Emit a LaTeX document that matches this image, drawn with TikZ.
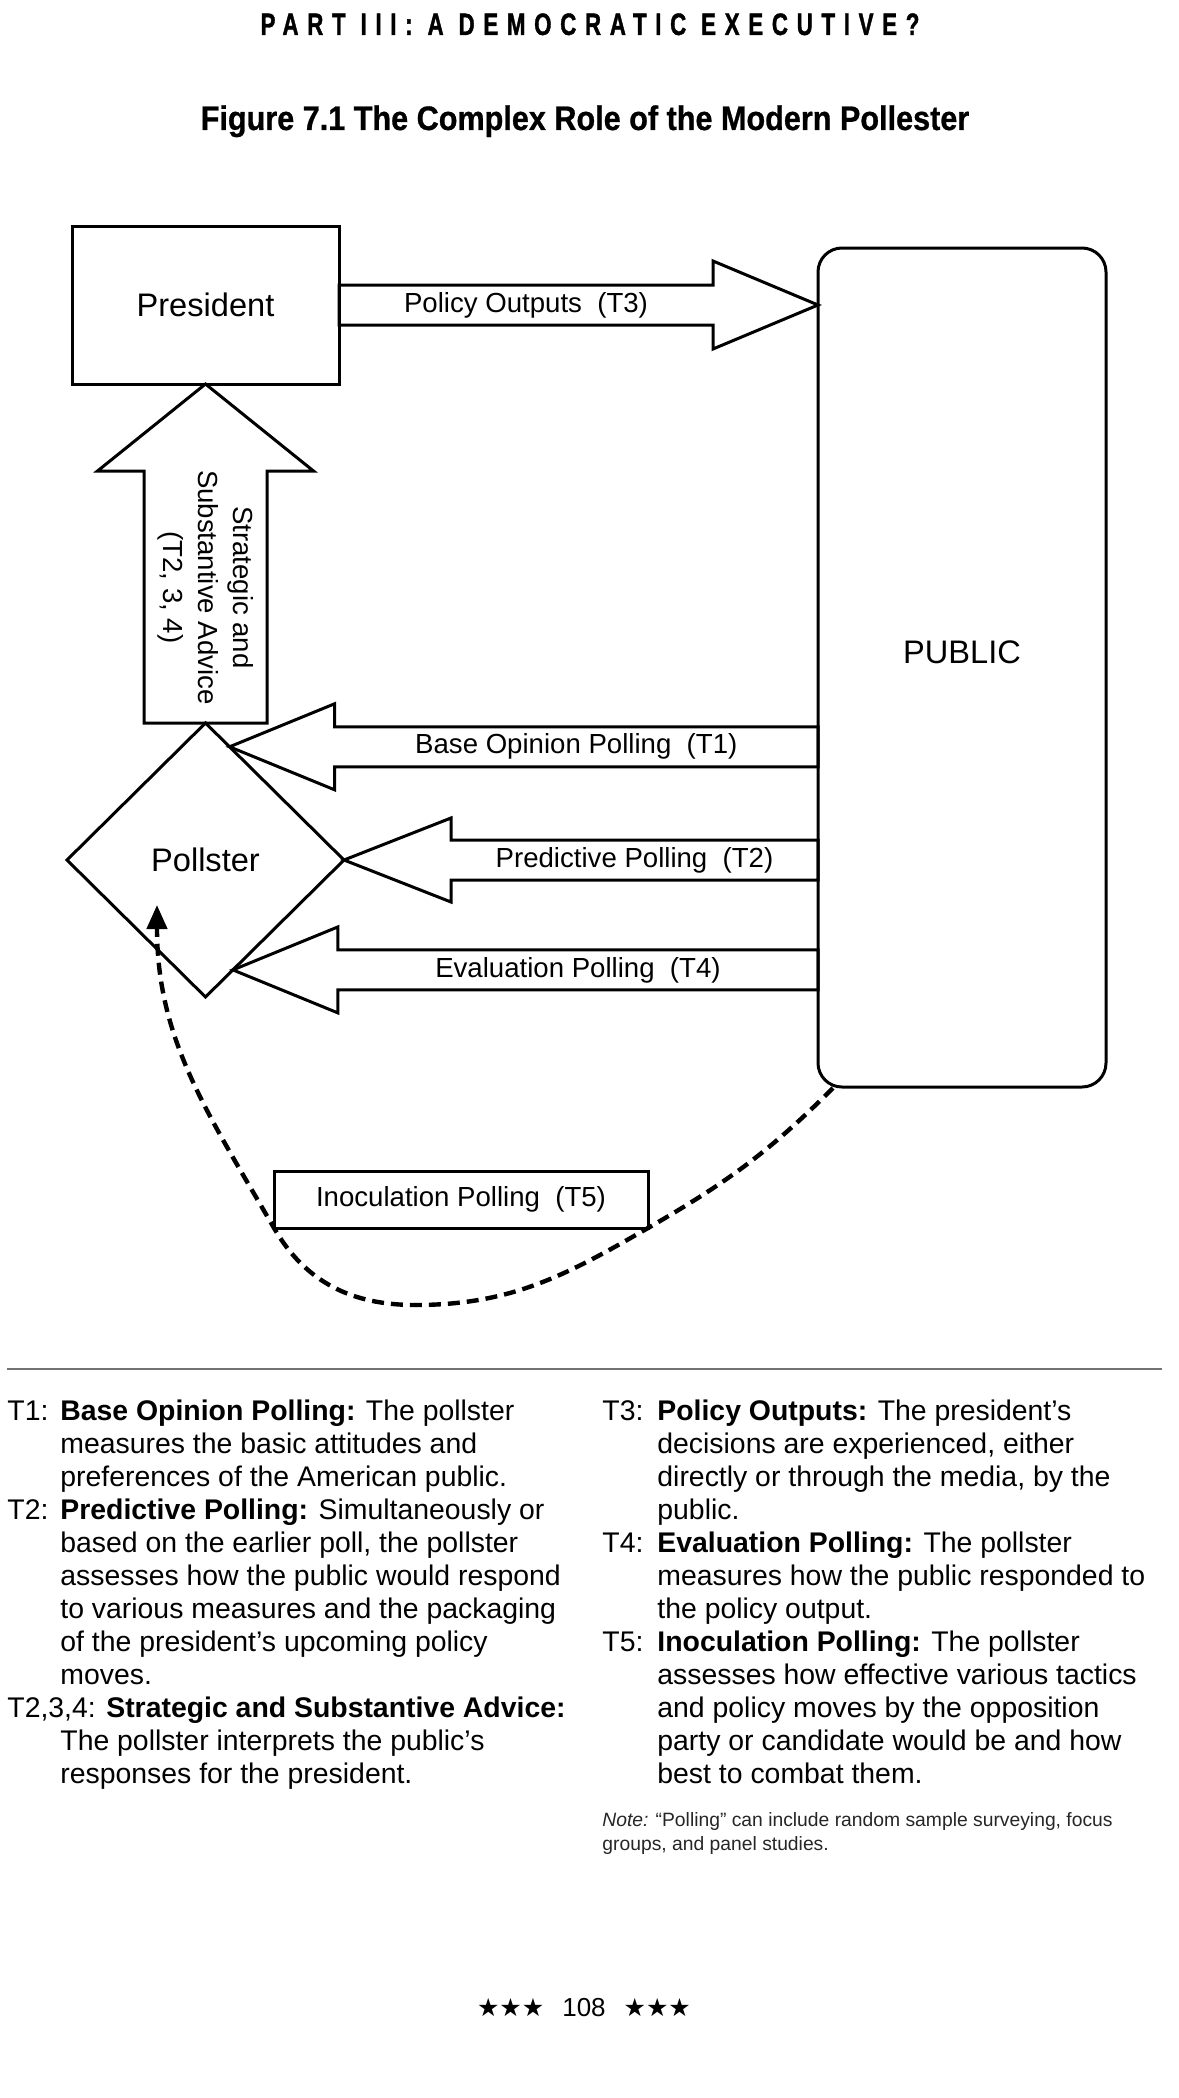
\documentclass[tikz,border=0pt]{standalone}
\usepackage{fontspec}
\setmainfont{Liberation Sans}
\newfontfamily\headfont[LetterSpace=28,FakeStretch=0.72,FakeBold=1.2]{Liberation Sans}
\newfontfamily\titlefont[FakeStretch=0.9,FakeBold=0.8]{Liberation Sans}
\newfontfamily\starfont{DejaVu Sans}
\usetikzlibrary{shapes.geometric,arrows.meta,calc,positioning}

\tikzstyle{box}      = [rectangle, draw, line width=1.5pt, inner sep=0pt, outer sep=0pt, font=\fontsize{16.3}{19}\selectfont]
\tikzstyle{lbl}      = [inner sep=0pt, font=\fontsize{13.8}{17.5}\selectfont]
\tikzstyle{block}    = [draw, line width=1.5pt, line join=miter]
\tikzstyle{dashline} = [line width=2.2pt, dash pattern=on 6pt off 3.5pt, ->, >={Triangle[length=12pt,width=10pt]}]
\tikzstyle{legend}   = [inner sep=0pt, anchor=base west, font=\fontsize{14.2}{16.5}\selectfont]
\tikzset{blockarrow/.style n args={3}{to path={
  ($(\tikztostart)!#1!90:(\tikztotarget)$)
  -- ($($(\tikztotarget)!#3!(\tikztostart)$)!#1!-90:(\tikztostart)$)
  -- ($($(\tikztotarget)!#3!(\tikztostart)$)!#2!-90:(\tikztostart)$)
  -- (\tikztotarget)
  -- ($($(\tikztotarget)!#3!(\tikztostart)$)!#2!90:(\tikztostart)$)
  -- ($($(\tikztotarget)!#3!(\tikztostart)$)!#1!90:(\tikztostart)$)
  -- ($(\tikztostart)!#1!-90:(\tikztotarget)$)
  -- cycle}}}

\begin{document}
\begin{tikzpicture}[x=0.5pt, y=-0.5pt]
\path[use as bounding box, fill=white] (0,0) rectangle (1178,2098);

\node[anchor=base, inner sep=0pt, font=\headfont\bfseries\fontsize{15.5}{18}\selectfont] (parthead) at (590,35) {PART III: A DEMOCRATIC EXECUTIVE?};
\node[anchor=base, inner sep=0pt, font=\titlefont\bfseries\fontsize{17}{20}\selectfont] (figtitle) at (585,130) {Figure 7.1 The Complex Role of the Modern Pollester};

\node (president) [box, minimum width=133.5pt, minimum height=79pt] at (205.5,305) {President};
\node (public)    [box, rounded corners=12pt, minimum width=144pt, minimum height=419.5pt] at (962,667.5) {\raisebox{7.5pt}[\height][\depth]{PUBLIC}};
\node (pollster)  [box, diamond, minimum width=138.5pt, minimum height=137pt, node distance=277.5pt, below of=president] {Pollster};
\node (inoc)      [box, lbl, minimum width=187pt, minimum height=28.5pt] at (461,1199.5) {Inoculation Polling~~(T5)};

\coordinate (t3tip)  at (public.west |- president.east);
\coordinate (t1tail) at (public.west |- pollster.78);
\coordinate (t2tail) at (public.west |- pollster.east);
\coordinate (t4tail) at (public.west |- pollster.-76);

\draw [block] (president.east) to[blockarrow={10pt}{22pt}{52.5pt}] (t3tip);
\draw [block] (pollster.north) to[blockarrow={30.75pt}{54pt}{43.5pt}] (president.south);
\draw [block] (t1tail) to[blockarrow={10pt}{21.5pt}{52.5pt}] (pollster.78);
\draw [block] (t2tail) to[blockarrow={10pt}{21pt}{53.5pt}] (pollster.east);
\draw [block] (t4tail) to[blockarrow={10pt}{21.5pt}{52.5pt}] (pollster.-76);

\node (t3lbl)  [lbl, xshift=-26.25pt] at ($(president.east)!.5!(t3tip)$) {Policy Outputs~~(T3)};
\node (t1lbl)  [lbl, xshift=26.25pt]  at ($(pollster.78)!.5!(t1tail)$) {Base Opinion Polling~~(T1)};
\node (t2lbl)  [lbl, xshift=26.75pt]  at ($(pollster.east)!.5!(t2tail)$) {Predictive Polling~~(T2)};
\node (t4lbl)  [lbl, xshift=26.25pt]  at ($(pollster.-76)!.5!(t4tail)$) {Evaluation Polling~~(T4)};
\node (advlbl) [lbl, rotate=-90, align=center] at ($(pollster.north)!.4!(president.south)$) {Strategic and\\Substantive Advice\\(T2, 3, 4)};

\coordinate (inostart) at ($(public.south west)+(15,1)$);
\coordinate (inobot)   at ($(inoc.south)+(-46,77)$);
\coordinate (inoend)   at ($(pollster.center)+(-48.5,45)$);
\draw [dashline] (inostart) to[out=-135,in=30] (inoc.south east) to[out=-150,in=0] (inobot)
  to[out=180,in=-60] (inoc.south west) to[out=120,in=-90] (inoend);

\draw [line width=1.4pt, black!55] (7,1369) -- (1162,1369);

\node (lefttext) [legend] at (7,1420) {\begin{tabular}[t]{@{}p{26.5pt}@{}l@{}}
T1: & \textbf{Base Opinion Polling:} The pollster\\
    & measures the basic attitudes and\\
    & preferences of the American public.\\
T2: & \textbf{Predictive Polling:} Simultaneously or\\
    & based on the earlier poll, the pollster\\
    & assesses how the public would respond\\
    & to various measures and the packaging\\
    & of the president's upcoming policy\\
    & moves.\\
\multicolumn{2}{@{}l@{}}{T2,3,4: \textbf{Strategic and Substantive Advice:}}\\
    & The pollster interprets the public's\\
    & responses for the president.
\end{tabular}};

\node (righttext) [legend] at (602,1420) {\begin{tabular}[t]{@{}p{27.5pt}@{}l@{}}
T3: & \textbf{Policy Outputs:} The president's\\
    & decisions are experienced, either\\
    & directly or through the media, by the\\
    & public.\\
T4: & \textbf{Evaluation Polling:} The pollster\\
    & measures how the public responded to\\
    & the policy output.\\
T5: & \textbf{Inoculation Polling:} The pollster\\
    & assesses how effective various tactics\\
    & and policy moves by the opposition\\
    & party or candidate would be and how\\
    & best to combat them.
\end{tabular}};

\node (note) [legend, font=\fontsize{9.65}{12}\selectfont, text=black!85] at (602,1826) {\begin{tabular}[t]{@{}l@{}}
\textit{Note:} “Polling” can include random sample surveying, focus\\
groups, and panel studies.
\end{tabular}};

\node (pageno) [anchor=base, inner sep=0pt, font=\fontsize{13}{15}\selectfont] at (584,2016) {{\starfont\fontsize{12.5}{15}\selectfont ★★★}\hspace{9pt}108\hspace{9pt}{\starfont\fontsize{12.5}{15}\selectfont ★★★}};
\end{tikzpicture}
\end{document}
